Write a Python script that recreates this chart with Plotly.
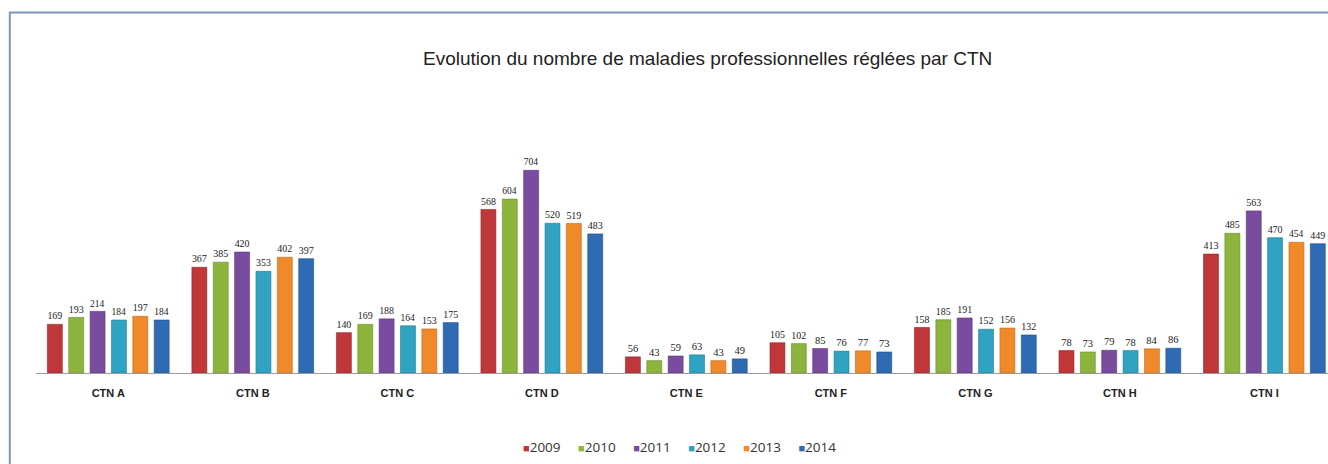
import plotly.graph_objects as go

categories = ["CTN A", "CTN B", "CTN C", "CTN D", "CTN E", "CTN F", "CTN G", "CTN H", "CTN I"]
years = ["2009", "2010", "2011", "2012", "2013", "2014"]
v2009 = [169, 367, 140, 568, 56, 105, 158, 78, 413]
v2010 = [193, 385, 169, 604, 43, 102, 185, 73, 485]
v2011 = [214, 420, 188, 704, 59, 85, 191, 79, 563]
v2012 = [184, 353, 164, 520, 63, 76, 152, 78, 470]
v2013 = [197, 402, 153, 519, 43, 77, 156, 84, 454]
v2014 = [184, 397, 175, 483, 49, 73, 132, 86, 449]
series = [v2009, v2010, v2011, v2012, v2013, v2014]
colors = ["#c0373a", "#8db43d", "#7a4c9f", "#30a2c2", "#f0892a", "#2e6bb3"]
edges = ["#8f2628", "#6a8a2a", "#583679", "#217a94", "#c0691c", "#1f4f88"]

OFF = 0  # body margin removed by post_script
W, H = 1328, 464
# screen-space targets
AX_LEFT, AX_RIGHT, BASE_Y, TOP_Y = 35.7, 1328, 373, 60
ML = AX_LEFT - OFF
MR = W - (AX_RIGHT - OFF)
MT = TOP_Y - OFF
MB = H - (BASE_Y - OFF)
PW, PH = W - ML - MR, H - MT - MB


def px(sx):
    return (sx - OFF - ML) / PW


def py(sy):
    return (MT + PH - (sy - OFF)) / PH


fig = go.Figure()
for name, vals, c, e in zip(years, series, colors, edges):
    fig.add_trace(go.Bar(
        x=categories, y=vals, name=name,
        marker=dict(color=c, line=dict(color=e, width=0.6)),
        text=[str(v) for v in vals], textposition="outside",
        textfont=dict(family="Liberation Serif", size=10.5, color="#222222"),
        cliponaxis=True, showlegend=False,
    ))

# manual legend (compact squares like the reference)
legend_text = "&nbsp;&nbsp;&nbsp;&nbsp;&nbsp;".join(
    f"<span style='color:{c};font-size:11px'>■</span>{y}" for y, c in zip(years, colors)
)
fig.add_annotation(text=legend_text, xref="paper", yref="paper",
                   x=px(679), y=py(447),
                   xanchor="center", yanchor="middle", showarrow=False,
                   font=dict(family="Open Sans", size=13.5, color="#333333"))

fig.update_layout(
    width=W, height=H,
    margin=dict(l=ML, r=MR, t=MT, b=MB, autoexpand=False),
    paper_bgcolor="white", plot_bgcolor="white",
    barmode="group", bargap=0.113, bargroupgap=0.3,
    title=dict(text="Evolution du nombre de maladies professionnelles réglées par CTN",
               font=dict(family="Liberation Sans", size=19, color="#222222"),
               x=px(707.5), xref="paper", xanchor="center",
               y=1 - (58 - OFF) / H, yanchor="middle"),
    showlegend=False,
)
fig.update_xaxes(range=[-0.5, 8.44], showline=True, linecolor="#9a9a9a", linewidth=1,
                 ticks="", ticklabelstandoff=10,
                 tickfont=dict(family="Liberation Sans", size=11, color="#222222", weight="bold"),
                 showgrid=False, zeroline=False)
fig.update_yaxes(range=[0, 1087], showticklabels=False, showgrid=False, zeroline=False, showline=False)

fig.add_shape(type="rect", xref="paper", yref="paper",
              x0=px(9.5), x1=1.3, y0=-0.6, y1=py(12.5),
              line=dict(color="#7d95bb", width=2), fillcolor="rgba(0,0,0,0)", layer="below")

fig.write_html("out.html", config={"displayModeBar": False},
               post_script="document.body.style.margin='0';document.body.style.overflow='hidden';")
